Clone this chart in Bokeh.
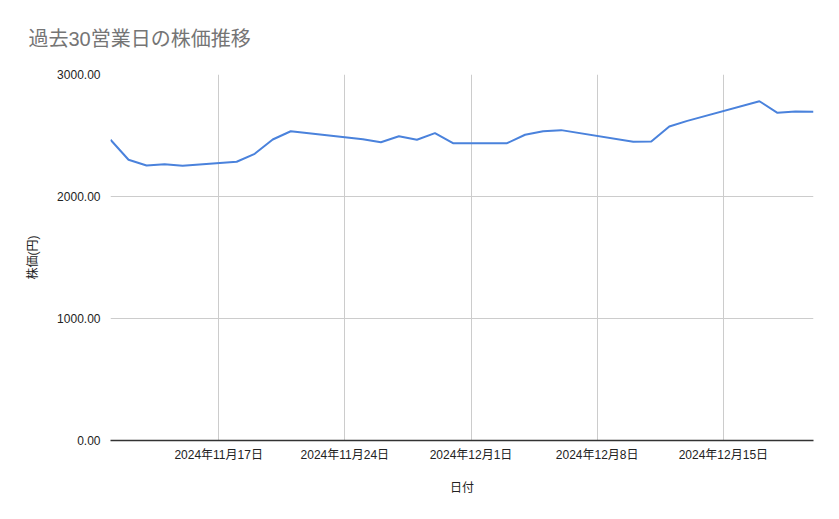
import pandas as pd
from bokeh.plotting import figure
from bokeh.models import (ColumnDataSource, FixedTicker, CustomJSTickFormatter,
                          NumeralTickFormatter, Range1d, Title)
from bokeh.embed import file_html
from bokeh.resources import INLINE

title_text = "過去30営業日の株価推移"
x_label = "日付"
y_label = "株価(円)"

dates = ["2024-11-11", "2024-11-12", "2024-11-13", "2024-11-14", "2024-11-15",
         "2024-11-18", "2024-11-19", "2024-11-20", "2024-11-21",
         "2024-11-25", "2024-11-26", "2024-11-27", "2024-11-28", "2024-11-29", "2024-11-30",
         "2024-12-02", "2024-12-03", "2024-12-04", "2024-12-05", "2024-12-06",
         "2024-12-10", "2024-12-11", "2024-12-12", "2024-12-13",
         "2024-12-17", "2024-12-18", "2024-12-19", "2024-12-20"]
prices = [2465, 2301, 2254, 2265, 2252,
          2285, 2350, 2467, 2535,
          2470, 2445, 2494, 2465, 2519, 2437,
          2437, 2437, 2506, 2535, 2544,
          2448, 2451, 2574, 2620,
          2781, 2686, 2697, 2694]

x_tick_dates = ["2024-11-17", "2024-11-24", "2024-12-01", "2024-12-08", "2024-12-15"]
y_ticks = [0, 1000, 2000, 3000]
x_start, x_end = "2024-11-11", "2024-12-20"

FONT = "'Liberation Sans', 'Noto Sans CJK JP', sans-serif"

def ms(d):
    return pd.Timestamp(d).value / 1e6

src = ColumnDataSource(dict(x=pd.to_datetime(dates), y=prices))

p = figure(width=831, height=511, x_axis_type="datetime",
           output_backend="svg", toolbar_location=None,
           x_range=Range1d(ms(x_start), ms(x_end)),
           y_range=Range1d(0, 3000),
           min_border_left=110, min_border_right=18,
           min_border_top=74, min_border_bottom=71)

p.title = Title(text=title_text, align="left", offset=-82, standoff=50,
                text_font=FONT, text_font_size="20px", text_color="#757575",
                text_font_style="normal")

p.line("x", "y", source=src, line_color="#4a82dc", line_width=2)

p.outline_line_color = None
p.background_fill_color = "white"

# x axis
xa = p.xaxis[0]
xa.ticker = FixedTicker(ticks=[ms(d) for d in x_tick_dates])
xa.formatter = CustomJSTickFormatter(code="""
const d = new Date(tick);
return d.getUTCFullYear() + "年" + (d.getUTCMonth() + 1) + "月" + d.getUTCDate() + "日";
""")
xa.axis_label = x_label
xa.axis_line_color = "#333333"
xa.axis_line_width = 1.5
xa.major_tick_line_color = None
xa.minor_tick_line_color = None
xa.major_label_standoff = 1
xa.axis_label_standoff = 16
xa.major_label_text_font = FONT
xa.major_label_text_font_size = "12px"
xa.major_label_text_color = "#222222"
xa.axis_label_text_font = FONT
xa.axis_label_text_font_size = "12px"
xa.axis_label_text_font_style = "normal"
xa.axis_label_text_color = "#222222"

# y axis
ya = p.yaxis[0]
ya.ticker = FixedTicker(ticks=y_ticks)
ya.formatter = NumeralTickFormatter(format="0.00")
ya.axis_label = y_label
ya.axis_line_color = None
ya.major_tick_line_color = None
ya.minor_tick_line_color = None
ya.major_label_standoff = 4
ya.axis_label_standoff = 14
ya.major_label_text_font = FONT
ya.major_label_text_font_size = "12px"
ya.major_label_text_color = "#222222"
ya.axis_label_text_font = FONT
ya.axis_label_text_font_size = "12px"
ya.axis_label_text_font_style = "normal"
ya.axis_label_text_color = "#222222"

p.xgrid.grid_line_color = "#cccccc"
p.ygrid.grid_line_color = "#cccccc"
p.xgrid.grid_line_width = 1
p.ygrid.grid_line_width = 1

open("out.html", "w").write(file_html(p, INLINE))
